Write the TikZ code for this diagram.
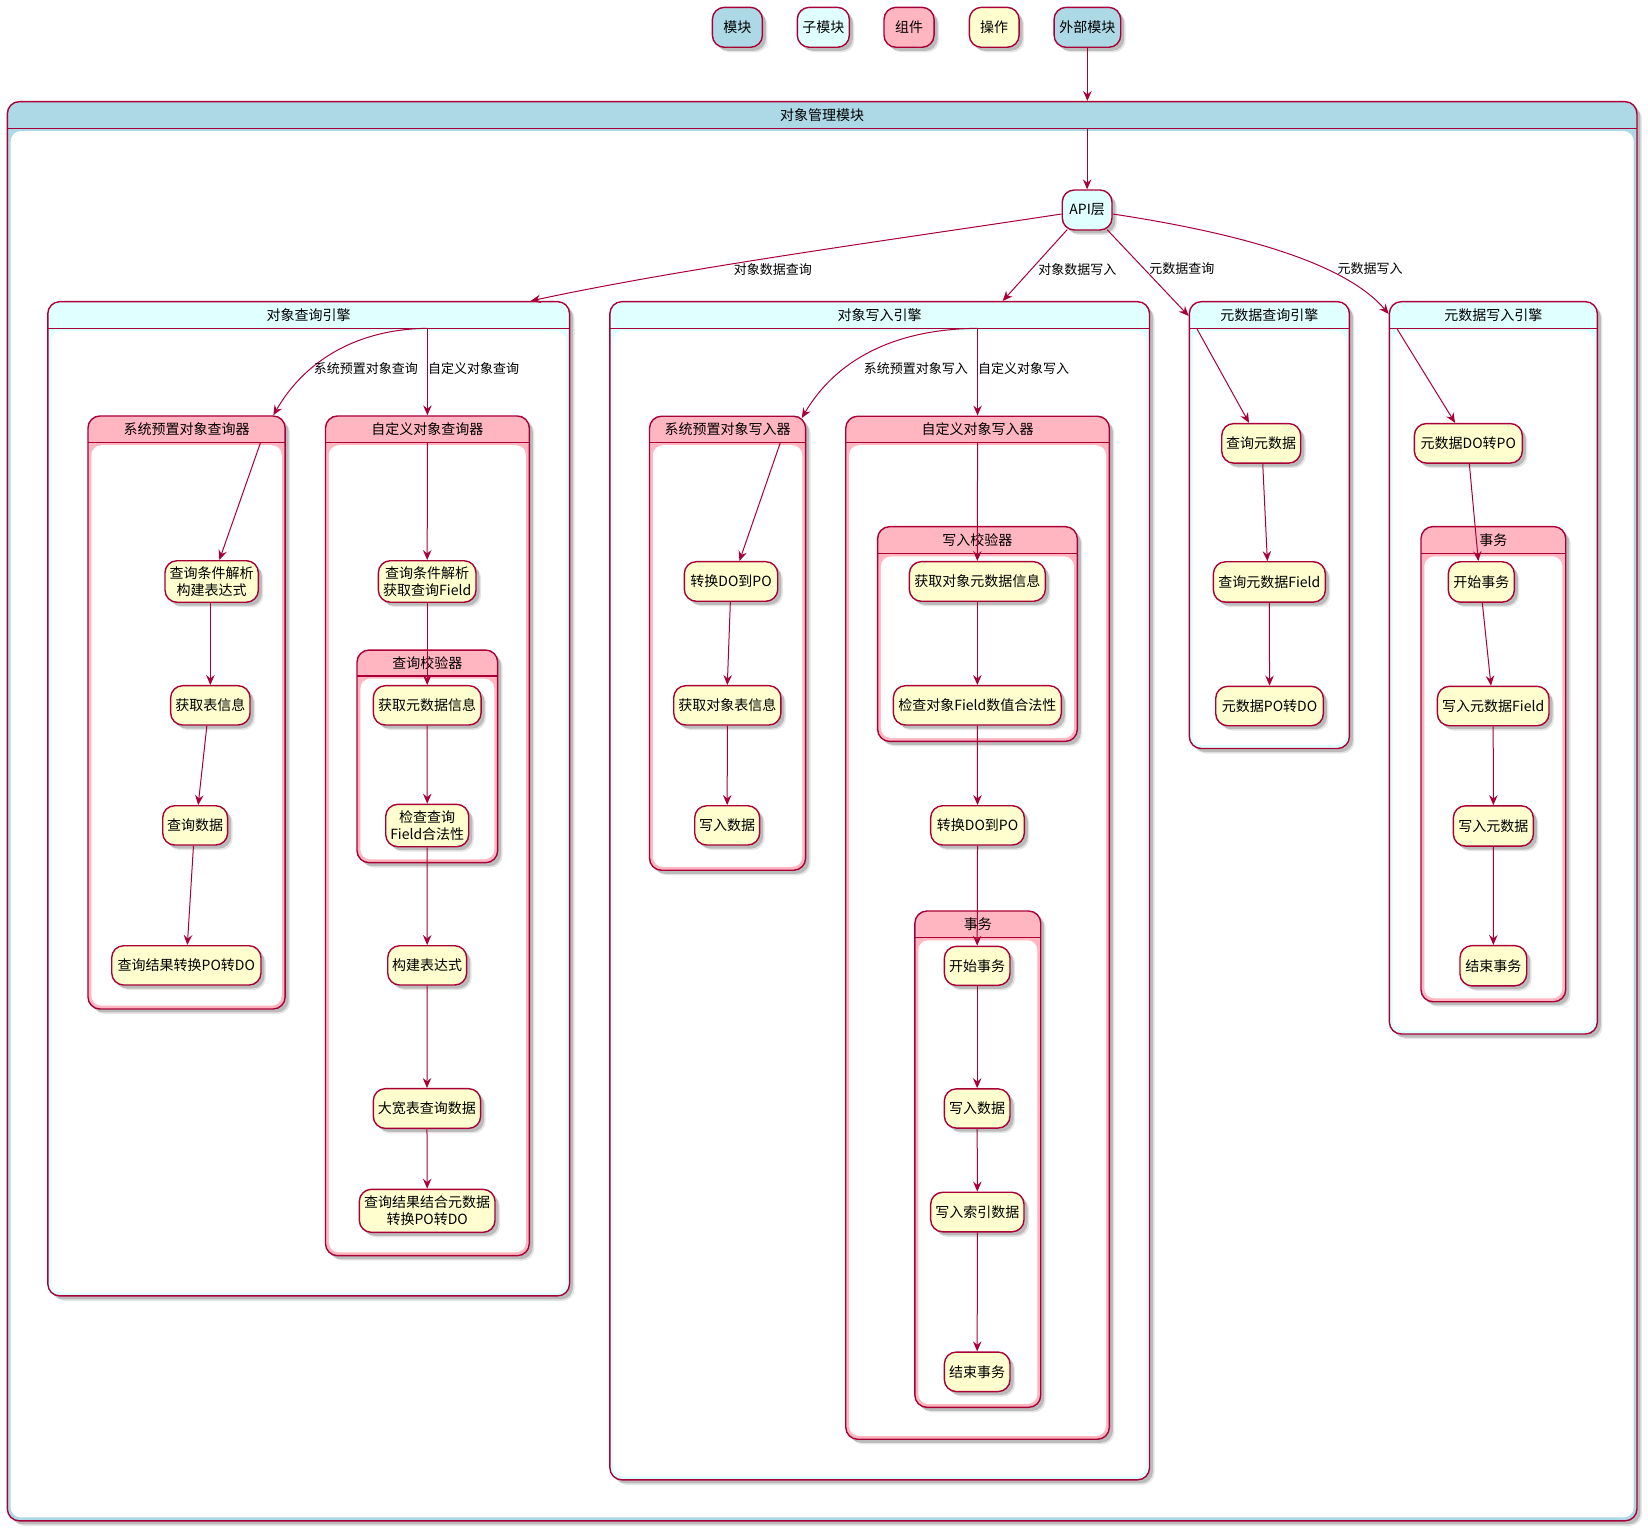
\documentclass[tikz,border=0pt]{standalone}
\usepackage{fontspec}
\setmainfont{Noto Sans CJK SC}
\usetikzlibrary{shadows,arrows.meta}

\definecolor{bord}{HTML}{A80036}
\definecolor{modfill}{HTML}{ADD8E6}
\definecolor{subfill}{HTML}{E0FFFF}
\definecolor{compfill}{HTML}{FFB6C1}
\definecolor{opfill}{HTML}{FEFECE}

\tikzset{
  softshadow/.style={
    drop shadow={shadow xshift=5pt,shadow yshift=-5pt,fill=black,opacity=.10},
    drop shadow={shadow xshift=3.5pt,shadow yshift=-3.5pt,fill=black,opacity=.18}},
  opbox/.style={draw=bord, line width=1.4pt, rounded corners=12pt, align=center,
    inner sep=1pt, font=\fontsize{14}{16.5}\selectfont, softshadow},
  contbox/.style={draw=bord, line width=1.4pt, rounded corners=12pt, inner sep=0pt, softshadow},
  ttl/.style={font=\fontsize{14}{16}\selectfont, inner sep=0pt},
  lbl/.style={font=\fontsize{13}{15}\selectfont, inner sep=0pt},
  edge/.style={draw=bord, line width=1pt, -{Stealth[length=10pt,width=8.5pt,inset=3.5pt]}},
}

% rounded box: name, x1, y1, x2, y2, extra style, text
\newcommand\mkbox[7]{%
  \node[opbox, #6, minimum width={1.051*(#4-#2)*1pt}, minimum height={1.051*(#5-#3)*1pt}]
    (#1) at ({(#2+#4)/2},{(#3+#5)/2}) {#7};}
% operation step
\newcommand\mkop[6]{\mkbox{#1}{#2}{#3}{#4}{#5}{fill=opfill}{#6}}
% composite box: name, x1, y1, header bottom, x2, y2, colour, title
\newcommand\mkcont[8]{%
  \node[contbox, fill=#7, minimum width={1.051*(#5-#2)*1pt}, minimum height={1.051*(#6-#3)*1pt}]
    (#1) at ({(#2+#5)/2},{(#3+#6)/2}) {};
  \fill[white, rounded corners=10pt] (#2+3.2,#4+2.6) rectangle (#5-3.2,#6-3.2);
  \draw[bord, line width=1.4pt] (#2,#4) -- (#5,#4);
  \coordinate (#1-hb) at ({(#2+#5)/2},#4);
  \node[ttl] (#1-t) at ({(#2+#5)/2},{(#3+#4)/2}) {#8};}

\begin{document}
\begin{tikzpicture}[x=1.051pt,y=-1.051pt]
\fill[white] (0,0) rectangle (1568,1456);
\useasboundingbox (0,0) rectangle (1568,1456);

% legend
\mkbox{lgmod}{677.8}{7}{725.4}{45}{fill=modfill}{模块}
\mkbox{lgsub}{758.6}{7}{808.1}{45}{fill=subfill}{子模块}
\mkbox{lgcomp}{841.1}{7}{888.7}{45}{fill=compfill}{组件}
\mkbox{lgop}{922.3}{7}{969.6}{45}{fill=opfill}{操作}
\mkbox{ext}{1002.9}{7}{1066.3}{45}{fill=modfill}{外部模块}

% module
\mkcont{mod}{7}{96.7}{122.1}{1557.5}{1447}{modfill}{对象管理模块}
\mkbox{api}{1010.7}{180.8}{1058}{218.8}{fill=subfill}{API层}

% engines
\mkcont{qe}{45.5}{287}{312.4}{541.9}{1233}{subfill}{对象查询引擎}
\mkcont{we}{580.3}{287}{312.4}{1093.7}{1408}{subfill}{对象写入引擎}
\mkcont{mq}{1131.6}{287}{312.4}{1283.9}{712.2}{subfill}{元数据查询引擎}
\mkcont{mw}{1321.9}{287}{312.4}{1519.8}{983.8}{subfill}{元数据写入引擎}

% components
\mkcont{sq}{83.7}{395.8}{421}{271.3}{960}{compfill}{系统预置对象查询器}
\mkcont{cq}{309.7}{395.8}{421}{503.6}{1194.7}{compfill}{自定义对象查询器}
\mkcont{qv}{339.7}{618.5}{643}{473.5}{820.8}{compfill}{查询校验器}
\mkcont{sw}{618}{396}{421}{766.5}{828}{compfill}{系统预置对象写入器}
\mkcont{cw}{804.7}{396}{421}{1055.5}{1369.4}{compfill}{自定义对象写入器}
\mkcont{wv}{835}{501.1}{526.8}{1025}{705.4}{compfill}{写入校验器}
\mkcont{txa}{870.5}{866.8}{892}{990.2}{1339}{compfill}{事务}
\mkcont{txb}{1352}{501}{526.7}{1489.7}{953.1}{compfill}{事务}

% steps: system object query
\mkop{n1}{157}{533.5}{245.8}{573}{查询条件解析\\构建表达式}
\mkop{n2}{162.4}{652.4}{237.9}{689.8}{获取表信息}
\mkop{n3}{154.8}{766.6}{216.6}{804}{查询数据}
\mkop{n4}{106.3}{899.8}{248.3}{937.2}{查询结果转换PO转DO}
% steps: custom object query
\mkop{c1}{360}{533.5}{452.9}{573}{查询条件解析\\获取查询Field}
\mkop{c2}{355.2}{652.4}{457.7}{689.8}{获取元数据信息}
\mkop{c3}{367}{765.3}{446}{805.6}{检查查询\\Field合法性}
\mkop{c4}{368.9}{899.8}{444}{937.2}{构建表达式}
\mkop{c5}{355.2}{1035.8}{457.3}{1073.6}{大宽表查询数据}
\mkop{c6}{341.9}{1131.6}{471}{1172.5}{查询结果结合元数据\\转换PO转DO}
% steps: system object write
\mkop{s1}{651.1}{534.4}{740}{572.1}{转换DO到PO}
\mkop{s2}{641}{652.4}{743}{689.8}{获取对象表信息}
\mkop{s3}{661}{766.6}{722.8}{804}{写入数据}
% steps: custom object write
\mkop{w1}{865.2}{534.4}{994.6}{572.1}{获取对象元数据信息}
\mkop{w2}{850}{652.4}{1009.8}{689.8}{检查对象Field数值合法性}
\mkop{w3}{885.5}{766.6}{974.6}{804}{转换DO到PO}
\mkop{w4}{898.5}{900.4}{961}{937.5}{开始事务}
\mkop{w5}{898.5}{1036}{961}{1073.3}{写入数据}
\mkop{w6}{885.5}{1134.4}{974.3}{1172}{写入索引数据}
\mkop{w7}{898.5}{1286.4}{961}{1324}{结束事务}
% steps: metadata query
\mkop{m1}{1162.4}{403}{1237.6}{440.6}{查询元数据}
\mkop{m2}{1154.5}{534.5}{1261}{572.9}{查询元数据Field}
\mkop{m3}{1156.7}{653}{1259.1}{690.5}{元数据PO转DO}
% steps: metadata write
\mkop{t0}{1345.7}{403}{1448.4}{440.6}{元数据DO转PO}
\mkop{t1}{1378}{534.5}{1440.8}{572.9}{开始事务}
\mkop{t2}{1367.6}{653}{1473.8}{690.5}{写入元数据Field}
\mkop{t3}{1382.8}{766.7}{1458.9}{805}{写入元数据}
\mkop{t4}{1389.1}{899.7}{1452.6}{938}{结束事务}

% connectors: top level
\draw[edge] (ext.south) -- (ext.south |- mod.north);
\draw[edge] (api.north |- mod-hb) -- (api.north);
\draw[edge] ([yshift=-4pt]api.west) .. controls (850,228) and (650,255) .. ([xshift=-39.5pt]qe.north east)
  node[lbl] at (735.4,256) {对象数据查询};
\draw[edge] ([xshift=5.6pt,yshift=1pt]api.south west) -- ([xshift=123pt]we.north)
  node[lbl] at (1025,256) {对象数据写入};
\draw[edge] ([xshift=-5.6pt,yshift=1pt]api.south east) -- ([yshift=-15pt]mq.north west)
  node[lbl] at (1124.6,256) {元数据查询};
\draw[edge] ([yshift=-4pt]api.east) .. controls (1180,222) and (1280,250) .. ([yshift=-13pt]mw.north west)
  node[lbl] at (1303.5,256) {元数据写入};

% connectors: query engine
\draw[edge] (cq.north |- qe-hb) -- (cq.north) node[lbl] at (450.6,350.5) {自定义对象查询};
\draw[edge] (cq.north |- qe-hb) .. controls (340,313) and (290,343) .. ([xshift=-12.5pt]sq.north east)
  node[lbl] at (348.1,350.5) {系统预置对象查询};
\draw[edge] ([xshift=74pt]sq-hb) -- ([xshift=7.7pt]n1.north);
\draw[edge] (n2.north |- n1.south) -- (n2.north);
\draw[edge] ([xshift=-3.5pt]n2.south) -- ([xshift=3pt]n3.north);
\draw[edge] ([xshift=-1.7pt]n3.south) -- ([xshift=1pt]n4.north);
\draw[edge] (cq-hb) -- (c1.north);
\draw[edge] (c1.south) -- (c2.north);
\draw[edge] (c2.south) -- (c3.north);
\draw[edge] (c3.south) -- (c4.north);
\draw[edge] (c4.south) -- (c5.north);
\draw[edge] (c5.south) -- (c6.north);

% connectors: write engine
\draw[edge] (cw.north |- we-hb) -- (cw.north) node[lbl] at (974,350.5) {自定义对象写入};
\draw[edge] (cw.north |- we-hb) .. controls (850,313) and (795,343) .. ([xshift=-4.5pt,yshift=-2.5pt]sw.north east)
  node[lbl] at (871.3,350.5) {系统预置对象写入};
\draw[edge] ([xshift=52.8pt]sw-hb) -- ([xshift=8.4pt]s1.north);
\draw[edge] ([xshift=-0.7pt]s1.south) -- (s2.north);
\draw[edge] (s2.south) -- (s3.north);
\draw[edge] (cw-hb) -- (w1.north);
\draw[edge] (w1.south) -- (w2.north);
\draw[edge] (w2.south) -- (w3.north);
\draw[edge] (w3.south) -- (w4.north);
\draw[edge] (w4.south) -- (w5.north);
\draw[edge] (w5.south) -- (w6.north);
\draw[edge] (w6.south) -- (w7.north);

% connectors: metadata engines
\draw[edge] ([xshift=-72.7pt]mq-hb) -- ([xshift=-12.2pt]m1.north);
\draw[edge] ([xshift=1.5pt]m1.south) -- ([xshift=-2pt]m2.north);
\draw[edge] (m2.south) -- (m3.north);
\draw[edge] ([xshift=-96.6pt]mw-hb) -- ([xshift=-13.3pt]t0.north);
\draw[edge] ([xshift=1pt]t0.south) -- ([xshift=-3pt]t1.north);
\draw[edge] ([xshift=1pt]t1.south) -- ([xshift=-2.2pt]t2.north);
\draw[edge] (t2.south) -- (t3.north);
\draw[edge] (t3.south) -- (t4.north);
\end{tikzpicture}
\end{document}
